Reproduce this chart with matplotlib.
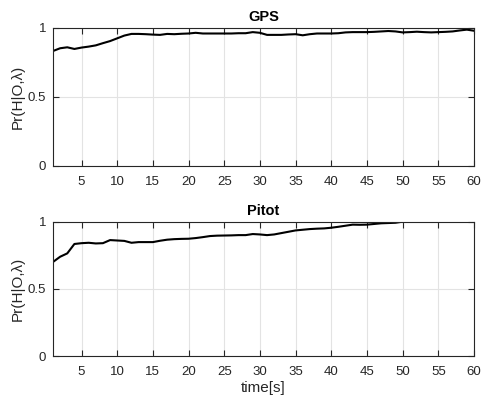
import numpy as np
import matplotlib
matplotlib.use('Agg')
import matplotlib.pyplot as plt

# time axis (s)
t = np.arange(1, 61)

# posterior probabilities
gps = [0.833, 0.853, 0.86, 0.848, 0.858, 0.865, 0.874, 0.89, 0.905, 0.925,
       0.945, 0.957, 0.957, 0.955, 0.952, 0.95, 0.957, 0.955, 0.958, 0.96,
       0.965, 0.96, 0.96, 0.96, 0.96, 0.96, 0.962, 0.962, 0.97, 0.965,
       0.95, 0.95, 0.95, 0.953, 0.955, 0.947, 0.955, 0.96, 0.96, 0.96,
       0.962, 0.968, 0.97, 0.97, 0.97, 0.972, 0.975, 0.978, 0.975, 0.968,
       0.97, 0.973, 0.97, 0.968, 0.97, 0.972, 0.975, 0.982, 0.988, 0.98]
pitot = [0.70, 0.739, 0.764, 0.834, 0.84, 0.843, 0.838, 0.84, 0.863, 0.86,
         0.857, 0.843, 0.848, 0.848, 0.848, 0.858, 0.866, 0.87, 0.872, 0.873,
         0.878, 0.885, 0.893, 0.896, 0.897, 0.898, 0.9, 0.9, 0.908, 0.905,
         0.9, 0.905, 0.915, 0.925, 0.935, 0.94, 0.945, 0.948, 0.95, 0.955,
         0.962, 0.97, 0.978, 0.977, 0.978, 0.983, 0.988, 0.99, 0.992, 1.0,
         1.0, 1.0, 1.0, 1.0, 1.0, 1.0, 1.0, 1.0, 1.0, 1.0]

xticks = [5, 10, 15, 20, 25, 30, 35, 40, 45, 50, 55, 60]
yticks = [0, 0.5, 1]

plt.rcParams['font.family'] = ['Liberation Sans', 'DejaVu Sans']
ax_col = '#262626'

fig = plt.figure(figsize=(4.83, 3.98), dpi=100)
ax1 = fig.add_axes([0.1097, 0.583, 0.8716, 0.3467])
ax2 = fig.add_axes([0.1097, 0.1055, 0.8716, 0.3375])

for ax, y, title in [(ax1, gps, 'GPS'), (ax2, pitot, 'Pitot')]:
    ax.plot(t, y, color='black', lw=1.5)
    ax.set_xlim(1, 60)
    ax.set_ylim(0, 1)
    ax.set_xticks(xticks)
    ax.set_yticks(yticks)
    ax.set_yticklabels(['0', '0.5', '1'])
    ax.grid(True, color='#e3e3e3', lw=0.8)
    ax.set_axisbelow(True)
    ax.tick_params(direction='in', top=True, right=True, length=4.5,
                   labelsize=9.5, colors=ax_col, pad=5)
    ax.tick_params(axis='x', pad=7)
    for s in ax.spines.values():
        s.set_color(ax_col)
        s.set_linewidth(0.8)
    ax.set_title(title, fontsize=10.5, fontweight='bold', pad=5)
    ax.set_ylabel('Pr(H|O,λ)', fontsize=11, color=ax_col, labelpad=2)

ax2.set_xlabel('time[s]', fontsize=11, color=ax_col, labelpad=2)

fig.savefig('out.png', dpi=100)
